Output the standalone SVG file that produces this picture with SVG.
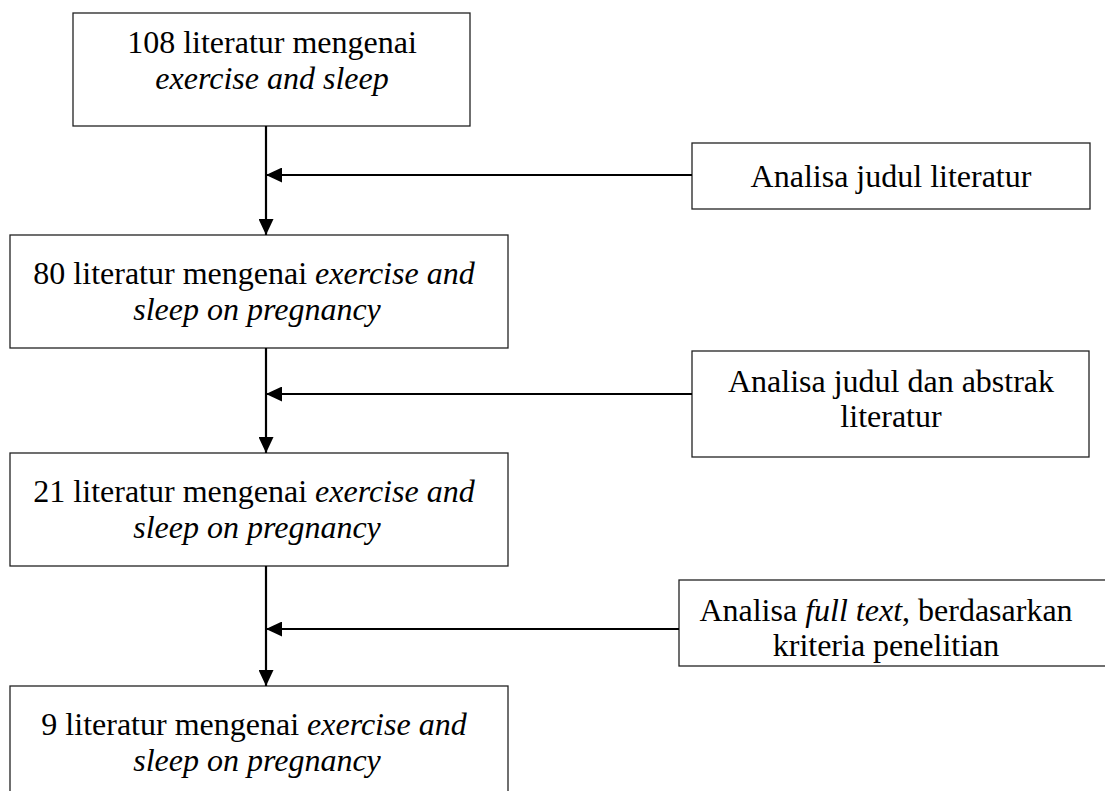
<svg xmlns="http://www.w3.org/2000/svg" width="1105" height="791" viewBox="0 0 1105 791">
<style>
.box{fill:#fff;stroke:#222;stroke-width:1.3}
.t{font-family:"Liberation Serif","Times New Roman",serif;font-size:32px;fill:#000;text-anchor:middle}
.i{font-style:italic}
.c{stroke:#000;stroke-width:2.2;fill:none}
</style>
<defs>
<marker id="ah" markerUnits="userSpaceOnUse" markerWidth="16" markerHeight="15" refX="16" refY="7.5" orient="auto" viewBox="0 0 16 15">
<path d="M0,0 L16,7.5 L0,15 z" fill="#000"/>
</marker>
</defs>
<rect width="1105" height="791" fill="#fff"/>
<g id="n1">
<rect class="box" x="73" y="13" width="397" height="113"/>
<text class="t" x="272" y="53">108 literatur mengenai</text>
<text class="t i" x="272" y="89">exercise and sleep</text>
</g>
<g id="n2">
<rect class="box" x="10" y="235" width="498" height="113"/>
<text class="t" x="254" y="284">80 literatur mengenai <tspan class="i">exercise and</tspan></text>
<text class="t i" x="257" y="320">sleep on pregnancy</text>
</g>
<g id="n3">
<rect class="box" x="10" y="453" width="498" height="113"/>
<text class="t" x="254" y="502">21 literatur mengenai <tspan class="i">exercise and</tspan></text>
<text class="t i" x="257" y="538">sleep on pregnancy</text>
</g>
<g id="n4">
<rect class="box" x="10" y="686" width="498" height="120"/>
<text class="t" x="254" y="735">9 literatur mengenai <tspan class="i">exercise and</tspan></text>
<text class="t i" x="257" y="771">sleep on pregnancy</text>
</g>
<g id="r1">
<rect class="box" x="692" y="143" width="398" height="66"/>
<text class="t" x="891" y="187">Analisa judul literatur</text>
</g>
<g id="r2">
<rect class="box" x="692" y="351" width="397" height="106"/>
<text class="t" x="891" y="392">Analisa judul dan abstrak</text>
<text class="t" x="891" y="427">literatur</text>
</g>
<g id="r3">
<rect class="box" x="679" y="580" width="430" height="86"/>
<text class="t" x="886" y="621">Analisa <tspan class="i">full text</tspan>, berdasarkan</text>
<text class="t" x="886" y="656">kriteria penelitian</text>
</g>
<g id="connectors">
<line class="c" x1="266" y1="126" x2="266" y2="235" marker-end="url(#ah)"/>
<line class="c" x1="266" y1="348" x2="266" y2="453" marker-end="url(#ah)"/>
<line class="c" x1="266" y1="566" x2="266" y2="686" marker-end="url(#ah)"/>
<line class="c" x1="692" y1="175" x2="266" y2="175" marker-end="url(#ah)"/>
<line class="c" x1="692" y1="394" x2="266" y2="394" marker-end="url(#ah)"/>
<line class="c" x1="679" y1="629" x2="266" y2="629" marker-end="url(#ah)"/>
</g>
</svg>
